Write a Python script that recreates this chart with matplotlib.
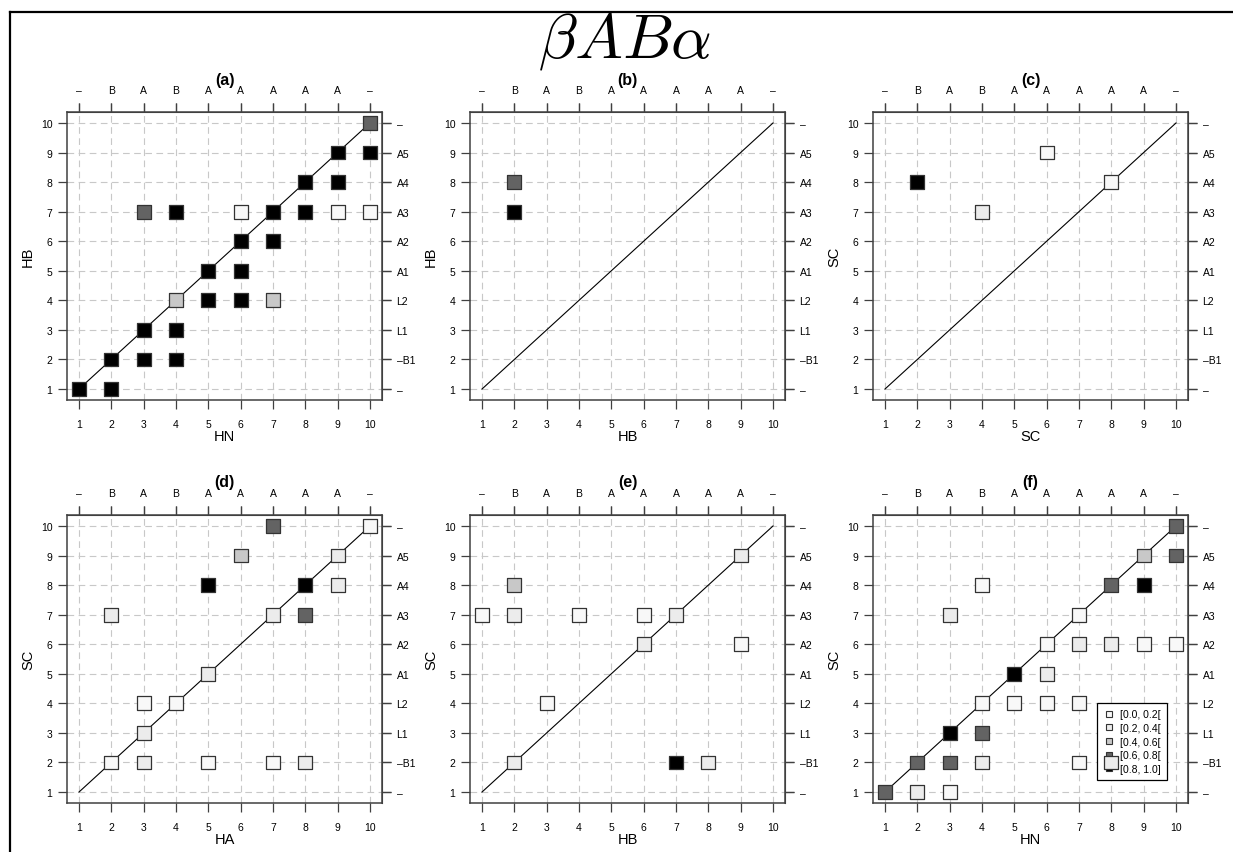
import matplotlib
matplotlib.use("Agg")
import matplotlib.pyplot as plt
from matplotlib.lines import Line2D

plt.rcParams['font.family'] = ['Liberation Sans', 'DejaVu Sans']
plt.rcParams['mathtext.fontset'] = 'cm'

# ---- data ----
positions = list(range(1, 11))
top_labels = ['–', 'B', 'A', 'B', 'A', 'A', 'A', 'A', 'A', '–']
right_labels = ['–', '–B1', 'L1', 'L2', 'A1', 'A2', 'A3', 'A4', 'A5', '–']
level_labels = ['[0.0, 0.2[', '[0.2, 0.4[', '[0.4, 0.6[', '[0.6, 0.8[', '[0.8, 1.0]']
level_colors = ['#f8f8f8', '#ececec', '#c8c8c8', '#636363', '#000000']

panel_titles = ['(a)', '(b)', '(c)', '(d)', '(e)', '(f)']
x_names = ['HN', 'HB', 'SC', 'HA', 'HB', 'HN']
y_names = ['HB', 'HB', 'SC', 'SC', 'SC', 'SC']

a_x = [10, 9, 10, 8, 9, 3, 4, 6, 7, 8, 9, 10, 6, 7, 5, 6, 4, 5, 6, 7, 3, 4, 2, 3, 4, 1, 2]
a_y = [10, 9, 9, 8, 8, 7, 7, 7, 7, 7, 7, 7, 6, 6, 5, 5, 4, 4, 4, 4, 3, 3, 2, 2, 2, 1, 1]
a_lvl = [3, 4, 4, 4, 4, 3, 4, 0, 4, 4, 0, 0, 4, 4, 4, 4, 2, 4, 4, 2, 4, 4, 4, 4, 4, 4, 4]

b_x = [2, 2]
b_y = [8, 7]
b_lvl = [3, 4]

c_x = [2, 4, 6, 8]
c_y = [8, 7, 9, 8]
c_lvl = [4, 1, 0, 0]

d_x = [7, 10, 6, 9, 5, 8, 9, 2, 7, 8, 5, 3, 4, 3, 2, 3, 5, 7, 8]
d_y = [10, 10, 9, 9, 8, 8, 8, 7, 7, 7, 5, 4, 4, 3, 2, 2, 2, 2, 2]
d_lvl = [3, 0, 2, 1, 4, 4, 1, 1, 1, 3, 1, 0, 0, 1, 0, 1, 0, 0, 1]

e_x = [9, 2, 1, 2, 4, 6, 7, 6, 9, 3, 2, 7, 8]
e_y = [9, 8, 7, 7, 7, 7, 7, 6, 6, 4, 2, 2, 2]
e_lvl = [1, 2, 0, 1, 0, 0, 1, 1, 0, 0, 1, 4, 1]

f_x = [10, 9, 10, 4, 8, 9, 3, 7, 6, 7, 8, 9, 10, 5, 6, 4, 5, 6, 7, 3, 4, 2, 3, 4, 7, 8, 1, 2, 3]
f_y = [10, 9, 9, 8, 8, 8, 7, 7, 6, 6, 6, 6, 6, 5, 5, 4, 4, 4, 4, 3, 3, 2, 2, 2, 2, 2, 1, 1, 1]
f_lvl = [3, 2, 3, 0, 3, 4, 1, 0, 0, 1, 1, 0, 0, 4, 1, 0, 0, 0, 0, 4, 3, 3, 3, 1, 0, 1, 3, 1, 0]

panels = [(a_x, a_y, a_lvl), (b_x, b_y, b_lvl), (c_x, c_y, c_lvl),
          (d_x, d_y, d_lvl), (e_x, e_y, e_lvl), (f_x, f_y, f_lvl)]

# ---- figure ----
W, H = 1233, 853
fig = plt.figure(figsize=(W / 100, H / 100), dpi=100)

col_left = [67, 470, 873]
ax_w = 315
row_top = [113, 516]
ax_h = 288

# figure frame lines (top and left)
fig.add_artist(Line2D([10 / W, 1], [1 - 13 / H, 1 - 13 / H], color='black', lw=1.6,
                      transform=fig.transFigure))
fig.add_artist(Line2D([10 / W, 10 / W], [0, 1 - 13 / H], color='black', lw=1.6,
                      transform=fig.transFigure))

fig.text(624 / W, 1 - 58 / H, r'$\beta AB\alpha$', ha='center', va='baseline', fontsize=46)

spine_col = '#404040'
for i, (xs, ys, lv) in enumerate(panels):
    r, c = divmod(i, 3)
    left = col_left[c] / W
    bottom = 1 - (row_top[r] + ax_h) / H
    ax = fig.add_axes([left, bottom, ax_w / W, ax_h / H])
    ax.set_xlim(0.63, 10.37)
    ax.set_ylim(0.63, 10.37)
    ax.set_axisbelow(True)
    ax.grid(True, color='#c8c8c8', linestyle=(0, (6, 4)), linewidth=0.8)

    ax.set_xticks(positions)
    ax.set_yticks(positions)
    ax.set_xticklabels([str(p) for p in positions])
    ax.set_yticklabels([str(p) for p in positions])
    ax.tick_params(axis='both', direction='out', length=6.5, width=0.9, color=spine_col,
                   labelsize=7.5, top=True, right=True, labeltop=False, labelright=False)
    ax.tick_params(axis='x', pad=7)
    ax.tick_params(axis='y', pad=4)

    # secondary labels top and right
    axt = ax.secondary_xaxis('top')
    axt.set_xticks(positions)
    axt.set_xticklabels(top_labels)
    axt.tick_params(direction='out', length=6.5, width=0.9, color=spine_col, labelsize=7.5, pad=6)
    axt.spines['top'].set_color(spine_col)
    axr = ax.secondary_yaxis('right')
    axr.set_yticks(positions)
    axr.set_yticklabels(right_labels)
    axr.tick_params(direction='out', length=6.5, width=0.9, color=spine_col, labelsize=7.5, pad=4)
    axr.spines['right'].set_color(spine_col)

    for s in ax.spines.values():
        s.set_color(spine_col)
        s.set_linewidth(1.1)

    ax.set_xlabel(x_names[i], fontsize=10.5, labelpad=0)
    ax.set_ylabel(y_names[i], fontsize=10.5, labelpad=4)
    ax.text(0.5, 1 + 33 / ax_h, panel_titles[i], transform=ax.transAxes, ha='center',
            va='center', fontsize=11.5, fontweight='bold')

    ax.plot([1, 10], [1, 10], color='black', lw=0.8, zorder=2.6)
    cols = [level_colors[k] for k in lv]
    ax.scatter(xs, ys, s=10 ** 2, marker='s', c=cols, edgecolors='#333333',
               linewidths=0.9, zorder=3)

    if i == 5:
        handles = [Line2D([], [], marker='s', linestyle='none', markersize=4,
                          markerfacecolor=level_colors[k], markeredgecolor='#333333',
                          markeredgewidth=0.8) for k in range(5)]
        leg = ax.legend(handles, level_labels, loc='upper right',
                        bbox_to_anchor=((1167 - 873) / ax_w, 1 - (704 - 516) / ax_h),
                        borderaxespad=0, fontsize=7.5, fancybox=False, framealpha=1,
                        edgecolor='black', handlelength=1.0, handletextpad=0.6,
                        labelspacing=0.35, borderpad=0.6)
        leg.get_frame().set_linewidth(0.9)
        leg.set_zorder(2.8)

fig.savefig('out.png', dpi=100)
